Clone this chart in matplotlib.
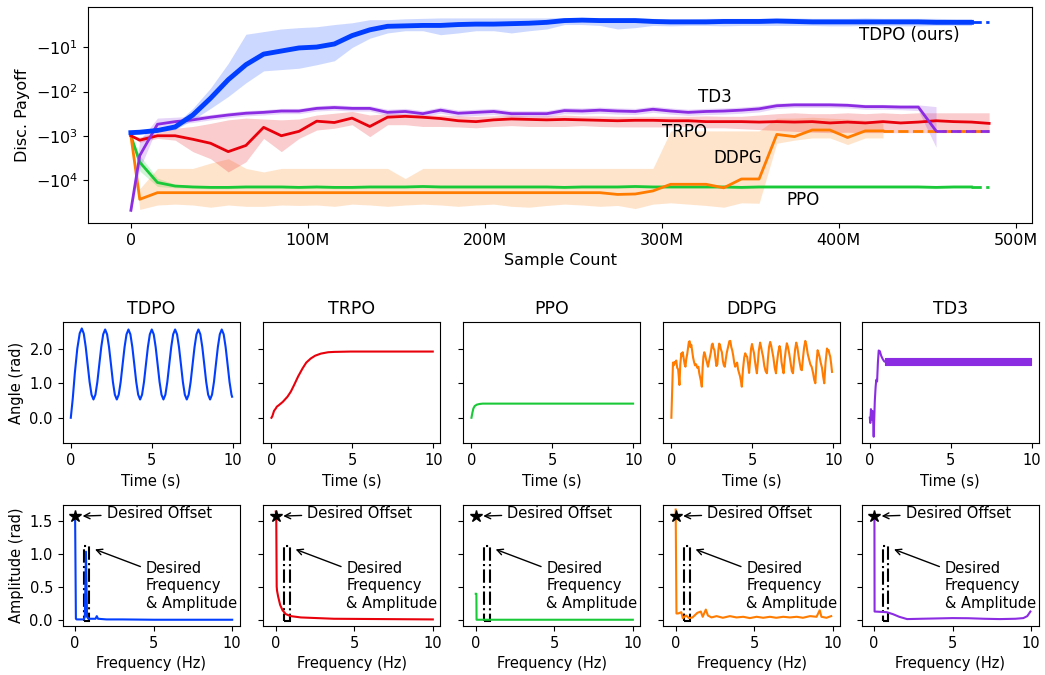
import numpy as np
import matplotlib
matplotlib.use("Agg")
import matplotlib.pyplot as plt
from matplotlib.patches import Rectangle
from matplotlib.ticker import FuncFormatter, NullLocator, FormatStrFormatter

# seaborn "bright" colours
colors = {"TDPO": "#023eff", "TRPO": "#e8000b", "PPO": "#1ac938",
          "DDPG": "#ff7c00", "TD3": "#8b2be2"}

# ---- learning curves: sample count (millions), payoff stored as log10(-payoff)
samples = [0, 5, 15, 25, 35, 45, 55, 65, 75, 85, 95, 105, 115, 125, 135, 145,
           155, 165, 175, 185, 195, 205, 215, 225, 235, 245, 255, 265, 275, 285,
           295, 305, 315, 325, 335, 345, 355, 365, 375, 385, 395, 405, 415, 425,
           435, 445, 455, 465, 475, 485]
x_end = 485

tdpo_mean = [2.93, 2.92, 2.88, 2.80, 2.53, 2.15, 1.73, 1.39, 1.15, 1.08,
             1.01, 0.99, 0.92, 0.73, 0.60, 0.52, 0.51, 0.50, 0.50, 0.48,
             0.47, 0.47, 0.46, 0.45, 0.43, 0.39, 0.38, 0.39, 0.39, 0.39,
             0.41, 0.42, 0.42, 0.42, 0.41, 0.41, 0.41, 0.40, 0.41, 0.42,
             0.42, 0.42, 0.42, 0.42, 0.42, 0.42, 0.43, 0.43, 0.43]
tdpo_hi = [2.93, 2.91, 2.84, 2.74, 2.38, 1.92, 1.36, 0.70, 0.64, 0.58,
           0.55, 0.53, 0.48, 0.44, 0.37, 0.37, 0.35, 0.34, 0.33, 0.33,
           0.33, 0.33, 0.33, 0.33, 0.33, 0.32, 0.32, 0.33, 0.33, 0.33,
           0.34, 0.35, 0.35, 0.34, 0.34, 0.34, 0.34, 0.33, 0.33, 0.34,
           0.34, 0.34, 0.33, 0.34, 0.34, 0.34, 0.34, 0.35, 0.35]
tdpo_lo = [2.93, 2.94, 2.91, 2.86, 2.64, 2.38, 2.11, 1.80, 1.53, 1.50,
           1.47, 1.39, 1.30, 1.00, 0.79, 0.67, 0.62, 0.62, 0.71, 0.67,
           0.62, 0.62, 0.67, 0.62, 0.58, 0.48, 0.48, 0.50, 0.58, 0.55,
           0.50, 0.51, 0.50, 0.50, 0.51, 0.50, 0.50, 0.50, 0.50, 0.50,
           0.51, 0.51, 0.50, 0.50, 0.51, 0.51, 0.50, 0.50, 0.50]

trpo_mean = [3.00, 3.10, 3.00, 3.00, 3.08, 3.17, 3.36, 3.22, 2.81, 3.00,
             2.90, 2.67, 2.70, 2.60, 2.79, 2.58, 2.56, 2.58, 2.61, 2.66,
             2.68, 2.64, 2.62, 2.63, 2.64, 2.63, 2.64, 2.65, 2.66, 2.65,
             2.65, 2.66, 2.66, 2.68, 2.68, 2.68, 2.69, 2.68, 2.69, 2.68,
             2.71, 2.69, 2.71, 2.68, 2.71, 2.69, 2.66, 2.68, 2.69, 2.72]
trpo_hi = [3.00, 3.03, 2.92, 2.83, 2.79, 2.72, 2.64, 2.60, 2.62, 2.64,
           2.62, 2.53, 2.49, 2.45, 2.53, 2.50, 2.50, 2.53, 2.53, 2.55,
           2.56, 2.55, 2.53, 2.55, 2.55, 2.53, 2.55, 2.55, 2.56, 2.56,
           2.56, 2.56, 2.56, 2.55, 2.56, 2.56, 2.53, 2.50, 2.48, 2.50,
           2.50, 2.48, 2.50, 2.48, 2.50, 2.48, 2.48, 2.48, 2.48, 2.48]
trpo_lo = [3.00, 3.15, 3.06, 3.10, 3.36, 3.52, 3.82, 3.59, 3.06, 3.36,
           3.06, 2.87, 2.83, 2.75, 3.02, 2.75, 2.75, 2.79, 2.79, 2.80,
           2.82, 2.79, 2.77, 2.79, 2.79, 2.79, 2.77, 2.79, 2.80, 2.80,
           2.80, 2.80, 2.79, 2.82, 2.82, 2.84, 2.86, 2.88, 2.90, 2.92,
           2.93, 2.92, 2.93, 2.93, 2.93, 2.93, 2.93, 2.93, 2.93, 2.93]

ddpg_mean = [3.00, 4.44, 4.29, 4.29, 4.29, 4.29, 4.29, 4.29, 4.29, 4.29,
             4.29, 4.29, 4.29, 4.29, 4.29, 4.29, 4.29, 4.29, 4.29, 4.29,
             4.29, 4.29, 4.29, 4.29, 4.29, 4.29, 4.29, 4.29, 4.33, 4.32,
             4.25, 4.10, 4.10, 4.10, 4.18, 3.98, 3.98, 2.97, 3.02, 2.87,
             2.87, 3.04, 2.89, 2.89]
ddpg_hi = [3.00, 4.20, 3.74, 3.74, 3.74, 3.62, 3.52, 3.74, 3.82, 3.74,
           3.74, 3.74, 3.74, 3.74, 3.74, 3.74, 3.97, 3.74, 3.74, 3.74,
           3.74, 3.74, 3.74, 3.74, 3.74, 3.74, 3.74, 3.74, 3.74, 3.74,
           3.74, 2.89, 2.89, 2.89, 2.89, 2.89, 2.89, 2.60, 2.60, 2.58,
           2.60, 2.62, 2.65, 2.70]
ddpg_lo = [3.00, 4.67, 4.57, 4.55, 4.57, 4.62, 4.57, 4.60, 4.60, 4.57,
           4.58, 4.57, 4.60, 4.55, 4.57, 4.60, 4.57, 4.55, 4.57, 4.60,
           4.57, 4.55, 4.60, 4.62, 4.58, 4.55, 4.57, 4.60, 4.58, 4.65,
           4.55, 4.52, 4.55, 4.58, 4.62, 4.52, 4.53, 3.17, 3.10, 3.05,
           3.05, 3.20, 3.05, 3.05]

ppo_mean = [3.00, 3.60, 4.06, 4.14, 4.16, 4.17, 4.17, 4.16, 4.16, 4.16,
            4.17, 4.16, 4.17, 4.17, 4.16, 4.16, 4.16, 4.15, 4.16, 4.16,
            4.16, 4.16, 4.16, 4.16, 4.16, 4.17, 4.16, 4.16, 4.16, 4.15,
            4.16, 4.16, 4.16, 4.16, 4.16, 4.17, 4.16, 4.16, 4.16, 4.16,
            4.16, 4.16, 4.16, 4.16, 4.16, 4.16, 4.17, 4.16, 4.16]
ppo_hi = [3.00, 3.45, 3.96, 4.10, 4.13, 4.14, 4.14, 4.13, 4.13, 4.13,
          4.14, 4.13, 4.14, 4.14, 4.13, 4.13, 4.13, 4.12, 4.13, 4.13,
          4.13, 4.13, 4.13, 4.13, 4.13, 4.14, 4.13, 4.13, 4.13, 4.12,
          4.13, 4.13, 4.13, 4.13, 4.13, 4.14, 4.13, 4.13, 4.13, 4.13,
          4.13, 4.13, 4.13, 4.13, 4.13, 4.13, 4.14, 4.13, 4.13]
ppo_lo = [3.00, 3.80, 4.15, 4.18, 4.19, 4.20, 4.20, 4.19, 4.19, 4.19,
          4.20, 4.19, 4.20, 4.20, 4.19, 4.19, 4.19, 4.18, 4.19, 4.19,
          4.19, 4.19, 4.19, 4.19, 4.19, 4.20, 4.19, 4.19, 4.19, 4.18,
          4.19, 4.19, 4.19, 4.19, 4.19, 4.20, 4.19, 4.19, 4.19, 4.19,
          4.19, 4.19, 4.19, 4.19, 4.19, 4.19, 4.20, 4.19, 4.19]

td3_mean = [4.69, 3.45, 2.74, 2.68, 2.64, 2.58, 2.53, 2.49, 2.47, 2.44,
            2.44, 2.38, 2.36, 2.38, 2.38, 2.47, 2.45, 2.50, 2.42, 2.49,
            2.47, 2.45, 2.50, 2.50, 2.50, 2.43, 2.44, 2.42, 2.44, 2.45,
            2.40, 2.44, 2.47, 2.45, 2.44, 2.42, 2.39, 2.32, 2.30, 2.30,
            2.30, 2.31, 2.34, 2.34, 2.35, 2.35, 2.89]
td3_hi = [4.69, 3.10, 2.60, 2.58, 2.56, 2.52, 2.47, 2.43, 2.41, 2.38,
          2.38, 2.32, 2.30, 2.32, 2.32, 2.40, 2.38, 2.43, 2.35, 2.42,
          2.40, 2.38, 2.43, 2.43, 2.43, 2.36, 2.37, 2.35, 2.37, 2.38,
          2.33, 2.37, 2.40, 2.38, 2.37, 2.35, 2.32, 2.26, 2.25, 2.25,
          2.25, 2.26, 2.29, 2.29, 2.30, 2.30, 2.34]
td3_lo = [4.75, 3.75, 2.80, 2.74, 2.70, 2.64, 2.59, 2.55, 2.53, 2.50,
          2.50, 2.44, 2.42, 2.44, 2.44, 2.54, 2.52, 2.57, 2.49, 2.56,
          2.54, 2.52, 2.57, 2.57, 2.57, 2.50, 2.51, 2.49, 2.51, 2.52,
          2.47, 2.51, 2.54, 2.52, 2.51, 2.49, 2.46, 2.38, 2.36, 2.36,
          2.36, 2.37, 2.40, 2.40, 2.41, 2.43, 3.26]

curves = [("PPO", ppo_mean, ppo_hi, ppo_lo, 2),
          ("DDPG", ddpg_mean, ddpg_hi, ddpg_lo, 2),
          ("TRPO", trpo_mean, trpo_hi, trpo_lo, 2),
          ("TD3", td3_mean, td3_hi, td3_lo, 2),
          ("TDPO", tdpo_mean, tdpo_hi, tdpo_lo, 3.5)]

# curve labels: (text, x in M, payoff)
curve_labels = [("TDPO (ours)", 440, -5.1), ("TD3", 330, -132),
                ("TRPO", 313, -830), ("DDPG", 343, -3240), ("PPO", 380, -29000)]

# ---- rollouts: joint angle over time
tdpo_t = [0.00, 0.12, 0.25, 0.40, 0.55, 0.68, 0.80, 0.92, 1.04, 1.16, 1.28, 1.40,
          1.52, 1.64, 1.76, 1.88, 2.00, 2.12, 2.24, 2.36, 2.48, 2.60, 2.72, 2.84,
          2.96, 3.08, 3.20, 3.32, 3.44, 3.56, 3.68, 3.80, 3.92, 4.04, 4.16, 4.28,
          4.40, 4.52, 4.64, 4.76, 4.88, 5.00, 5.12, 5.24, 5.36, 5.48, 5.60, 5.72,
          5.84, 5.96, 6.08, 6.20, 6.32, 6.44, 6.56, 6.68, 6.80, 6.92, 7.04, 7.16,
          7.28, 7.40, 7.52, 7.64, 7.76, 7.88, 8.00, 8.12, 8.24, 8.36, 8.48, 8.60,
          8.72, 8.84, 8.96, 9.08, 9.20, 9.32, 9.44, 9.56, 9.68, 9.80, 9.92, 9.96]
tdpo_angle = [0.00, 0.55, 1.30, 2.00, 2.45, 2.59, 2.44, 2.06, 1.55, 1.04, 0.67, 0.53,
              0.67, 1.04, 1.55, 2.05, 2.42, 2.56, 2.42, 2.05, 1.55, 1.04, 0.67, 0.53,
              0.67, 1.04, 1.55, 2.05, 2.42, 2.56, 2.42, 2.05, 1.55, 1.04, 0.67, 0.53,
              0.67, 1.04, 1.55, 2.05, 2.42, 2.56, 2.42, 2.05, 1.55, 1.04, 0.67, 0.53,
              0.67, 1.04, 1.55, 2.05, 2.42, 2.56, 2.42, 2.05, 1.55, 1.04, 0.67, 0.53,
              0.67, 1.04, 1.55, 2.05, 2.42, 2.56, 2.42, 2.05, 1.55, 1.04, 0.67, 0.53,
              0.67, 1.04, 1.55, 2.05, 2.42, 2.56, 2.42, 2.05, 1.55, 1.04, 0.67, 0.61]

trpo_t = [0.00, 0.06, 0.16, 0.27, 0.33, 0.47, 0.70, 0.99, 1.20, 1.40, 1.65, 1.92,
          2.15, 2.43, 2.70, 3.05, 3.50, 3.88, 4.90, 7.00, 9.96]
trpo_angle = [0.00, 0.05, 0.20, 0.27, 0.32, 0.37, 0.46, 0.61, 0.76, 0.95, 1.20, 1.43,
              1.60, 1.72, 1.80, 1.86, 1.90, 1.91, 1.92, 1.92, 1.92]

ppo_t = [0.00, 0.06, 0.12, 0.20, 0.33, 0.50, 0.70, 1.00, 9.98]
ppo_angle = [0.00, 0.15, 0.27, 0.34, 0.38, 0.40, 0.41, 0.41, 0.41]

ddpg_t = [0.00, 0.10, 0.15, 0.20, 0.26, 0.30, 0.36, 0.42, 0.47, 0.50, 0.55, 0.58,
          0.62, 0.66, 0.70, 0.76, 0.82, 0.87, 0.92, 0.98, 1.04, 1.08, 1.13, 1.18,
          1.23, 1.28, 1.34, 1.40, 1.46, 1.53, 1.60, 1.67, 1.72, 1.77, 1.83, 1.88,
          1.93, 1.98, 2.03, 2.08, 2.14, 2.20, 2.26, 2.32, 2.38, 2.44, 2.50, 2.55,
          2.60, 2.66, 2.72, 2.78, 2.84, 2.90, 2.95, 3.00, 3.06, 3.12, 3.18, 3.24,
          3.30, 3.36, 3.42, 3.50, 3.58, 3.64, 3.70, 3.76, 3.82, 3.88, 3.94, 4.00,
          4.06, 4.12, 4.18, 4.24, 4.30, 4.35, 4.42, 4.50, 4.56, 4.62, 4.68, 4.74,
          4.80, 4.86, 4.92, 4.98, 5.04, 5.10, 5.16, 5.22, 5.28, 5.34, 5.40, 5.48,
          5.54, 5.60, 5.66, 5.74, 5.82, 5.90, 5.96, 6.03, 6.10, 6.16, 6.22, 6.30,
          6.38, 6.46, 6.52, 6.60, 6.68, 6.74, 6.80, 6.86, 6.93, 7.00, 7.06, 7.13,
          7.20, 7.28, 7.36, 7.44, 7.51, 7.58, 7.64, 7.71, 7.78, 7.86, 7.94, 8.00,
          8.06, 8.13, 8.20, 8.27, 8.34, 8.42, 8.50, 8.58, 8.66, 8.75, 8.82, 8.89,
          8.96, 9.03, 9.09, 9.15, 9.22, 9.30, 9.37, 9.44, 9.52, 9.61, 9.66, 9.71,
          9.76, 9.81, 9.87, 9.92]
ddpg_angle = [0.00, 1.60, 1.52, 1.62, 1.58, 1.66, 1.45, 1.40, 1.10, 0.95, 1.55, 1.70,
              1.87, 1.80, 1.90, 1.72, 1.55, 1.48, 1.70, 1.85, 2.05, 2.20, 2.22, 2.05,
              2.12, 1.95, 1.75, 1.62, 1.52, 1.55, 1.45, 1.48, 1.30, 1.19, 1.05, 0.90,
              1.45, 1.77, 1.90, 1.84, 1.70, 1.60, 1.48, 1.62, 1.75, 1.90, 2.12, 2.15,
              2.02, 1.96, 1.72, 1.50, 1.55, 1.95, 2.15, 2.12, 1.98, 1.90, 1.65, 1.52,
              1.48, 1.70, 1.88, 2.05, 2.22, 2.23, 2.05, 1.95, 1.80, 1.60, 1.48, 1.55,
              1.60, 1.40, 1.30, 1.20, 1.05, 0.90, 1.40, 1.75, 1.87, 1.80, 1.77, 1.55,
              1.30, 1.65, 2.00, 2.14, 2.00, 1.88, 1.65, 1.45, 1.29, 1.60, 1.95, 2.18,
              2.05, 1.90, 1.78, 1.50, 1.35, 1.29, 1.70, 2.05, 2.20, 2.10, 1.95, 1.75,
              1.45, 1.29, 1.60, 1.90, 2.08, 1.95, 1.62, 1.45, 1.29, 1.70, 1.95, 2.16,
              2.05, 1.85, 1.60, 1.35, 1.29, 1.70, 1.98, 2.18, 2.05, 1.78, 1.55, 1.40,
              1.38, 1.75, 2.05, 2.23, 2.10, 1.85, 1.70, 1.55, 1.48, 1.30, 1.10, 1.00,
              1.60, 1.96, 1.88, 1.77, 1.60, 1.45, 1.20, 1.00, 1.60, 2.01, 1.95, 1.96,
              1.85, 1.77, 1.55, 1.33]

td3_t = [0.00, 0.03, 0.07, 0.12, 0.16, 0.20, 0.24, 0.27, 0.31, 0.36, 0.40, 0.45,
         0.50, 0.55, 0.62, 0.70, 0.80, 0.90, 1.00]
td3_angle = [0.00, -0.15, 0.25, -0.05, 0.20, 0.00, -0.55, -0.10, 0.50, 0.90, 1.10,
             1.05, 1.60, 1.95, 1.93, 1.80, 1.70, 1.63, 1.62]
# fast oscillation after settling, drawn as its envelope
td3_osc_t = [0.95, 9.95]
td3_osc_lo = [1.53, 1.53]
td3_osc_hi = [1.72, 1.72]

# ---- spectra: amplitude vs frequency
tdpo_f = [0.00, 0.05, 0.10, 0.55, 0.62, 0.69, 0.76, 0.85, 1.30, 1.38, 1.46, 2.00, 3.00, 5.00, 10.0]
tdpo_amp = [1.58, 0.02, 0.01, 0.01, 0.05, 1.04, 0.05, 0.02, 0.02, 0.06, 0.02, 0.01, 0.01, 0.005, 0.005]
trpo_f = [0.00, 0.03, 0.06, 0.08, 0.15, 0.28, 0.43, 0.64, 0.96, 1.60, 3.70, 10.0]
trpo_amp = [1.65, 1.65, 0.51, 0.45, 0.36, 0.23, 0.15, 0.09, 0.06, 0.04, 0.02, 0.01]
ppo_f = [0.00, 0.04, 0.05, 10.0]
ppo_amp = [0.40, 0.40, 0.005, 0.005]
ddpg_f = [0.00, 0.05, 0.15, 0.36, 0.45, 0.66, 0.85, 1.07, 1.38, 1.60, 1.72, 1.92, 2.05,
          2.28, 2.60, 3.00, 3.45, 3.87, 4.30, 4.72, 5.15, 5.57, 6.00, 6.40, 6.85,
          7.27, 7.70, 8.10, 8.55, 8.97, 9.17, 9.28, 9.60, 9.90]
ddpg_amp = [1.68, 0.10, 0.10, 0.12, 0.03, 0.07, 0.03, 0.04, 0.11, 0.13, 0.05, 0.16, 0.07,
            0.04, 0.06, 0.035, 0.06, 0.04, 0.05, 0.03, 0.05, 0.035, 0.05, 0.035, 0.05,
            0.04, 0.05, 0.035, 0.06, 0.05, 0.15, 0.05, 0.035, 0.06]
td3_f = [0.00, 0.02, 0.03, 0.80, 1.20, 1.60, 2.10, 3.00, 4.00, 5.00, 6.00, 7.00, 8.00,
         9.00, 9.50, 9.75, 9.95]
td3_amp = [1.60, 1.60, 0.13, 0.12, 0.09, 0.05, 0.015, 0.02, 0.025, 0.03, 0.028, 0.02,
           0.015, 0.02, 0.03, 0.06, 0.13]

desired_offset = 1.58
desired_box = (0.55, -0.02, 0.35, 1.14)   # f0, a0, width, height

names = ["TDPO", "TRPO", "PPO", "DDPG", "TD3"]
time_series = {"TDPO": (tdpo_t, tdpo_angle), "TRPO": (trpo_t, trpo_angle),
               "PPO": (ppo_t, ppo_angle), "DDPG": (ddpg_t, ddpg_angle),
               "TD3": (td3_t, td3_angle)}
spectra = {"TDPO": (tdpo_f, tdpo_amp), "TRPO": (trpo_f, trpo_amp),
           "PPO": (ppo_f, ppo_amp), "DDPG": (ddpg_f, ddpg_amp),
           "TD3": (td3_f, td3_amp)}

fig = plt.figure(figsize=(10.45, 6.75), dpi=100)

# ---------------- top: learning curves
ax = fig.add_axes([0.0842, 0.6696, 0.9034, 0.3200])
x = np.array(samples, dtype=float)
for name, mean, hi, lo, lw in curves:
    n = len(mean)
    c = colors[name]
    ax.fill_between(x[:n], -10 ** np.array(hi), -10 ** np.array(lo),
                    color=c, alpha=0.2, lw=0)
for name, mean, hi, lo, lw in curves:
    n = len(mean)
    c = colors[name]
    y = -10 ** np.array(mean)
    ax.plot(x[:n], y, color=c, lw=lw)
    if x[n - 1] < x_end:
        # unfinished runs are carried on dashed
        ax.plot([x[n - 1], x_end], [y[-1], y[-1]], color=c, lw=2, ls="--")
for txt, lx, ly in curve_labels:
    ax.text(lx, ly, txt, ha="center", va="center", fontsize=12)

ax.set_yscale("symlog", linthresh=1)
ax.set_ylim(-95000, -1.21)
ax.set_yticks([-1e4, -1e3, -1e2, -1e1])
ax.yaxis.set_minor_locator(NullLocator())
ax.set_xticks([0, 100, 200, 300, 400, 500])
ax.xaxis.set_major_formatter(FuncFormatter(lambda v, p: "0" if v == 0 else "%dM" % v))
ax.tick_params(labelsize=11.5)
ax.set_xlabel("Sample Count", fontsize=11.5)
ax.set_ylabel("Disc. Payoff", fontsize=11.5)

# ---------------- bottom: rollouts and spectra
lefts = [0.0600, 0.2520, 0.4434, 0.6347, 0.8246]
w = 0.1694
fs = 10.5
ax_t0 = None
ax_f0 = None
for i, name in enumerate(names):
    c = colors[name]
    at = fig.add_axes([lefts[i], 0.3433, w, 0.1793], sharey=ax_t0)
    af = fig.add_axes([lefts[i], 0.0726, w, 0.1793], sharey=ax_f0)
    if i == 0:
        ax_t0, ax_f0 = at, af

    t, a = time_series[name]
    at.plot(t, a, color=c, lw=1.5)
    if name == "TD3":
        at.fill_between(td3_osc_t, td3_osc_lo, td3_osc_hi, color=c, lw=0.8, ec=c)
    at.set_title(name, fontsize=12.5)
    at.set_xlim(-0.5, 10.43)
    at.set_ylim(-0.74, 2.77)
    at.set_xticks([0, 5, 10])
    at.set_yticks([0, 1, 2])
    at.yaxis.set_major_formatter(FormatStrFormatter("%.1f"))
    at.set_xlabel("Time (s)", fontsize=fs)
    at.tick_params(labelsize=fs)

    f, amp = spectra[name]
    af.plot(f, amp, color=c, lw=1.5)
    f0, a0, bw, bh = desired_box
    af.add_patch(Rectangle((f0, a0), bw, bh, fill=False, ec="k", lw=1.5, ls="-."))
    af.plot(0, desired_offset, marker="*", color="k", ms=9, ls="none")
    af.annotate("Desired Offset", xy=(0.3, desired_offset), xytext=(2.0, 1.62),
                ha="left", va="center", fontsize=fs,
                arrowprops=dict(arrowstyle="->", color="k", lw=1))
    af.annotate("Desired\nFrequency\n& Amplitude", xy=(f0 + bw + 0.2, a0 + bh - 0.03),
                xytext=(4.5, 0.52), ha="left", va="center", fontsize=fs,
                arrowprops=dict(arrowstyle="->", color="k", lw=1))
    af.set_xlim(-0.79, 10.48)
    af.set_ylim(-0.09, 1.75)
    af.set_xticks([0, 5, 10])
    af.set_yticks([0, 0.5, 1.0, 1.5])
    af.yaxis.set_major_formatter(FormatStrFormatter("%.1f"))
    af.set_xlabel("Frequency (Hz)", fontsize=fs)
    af.tick_params(labelsize=fs)

    if i == 0:
        at.set_ylabel("Angle (rad)", fontsize=fs)
        af.set_ylabel("Amplitude (rad)", fontsize=fs)
    else:
        at.tick_params(labelleft=False)
        af.tick_params(labelleft=False)

fig.savefig("out.png", dpi=100)
